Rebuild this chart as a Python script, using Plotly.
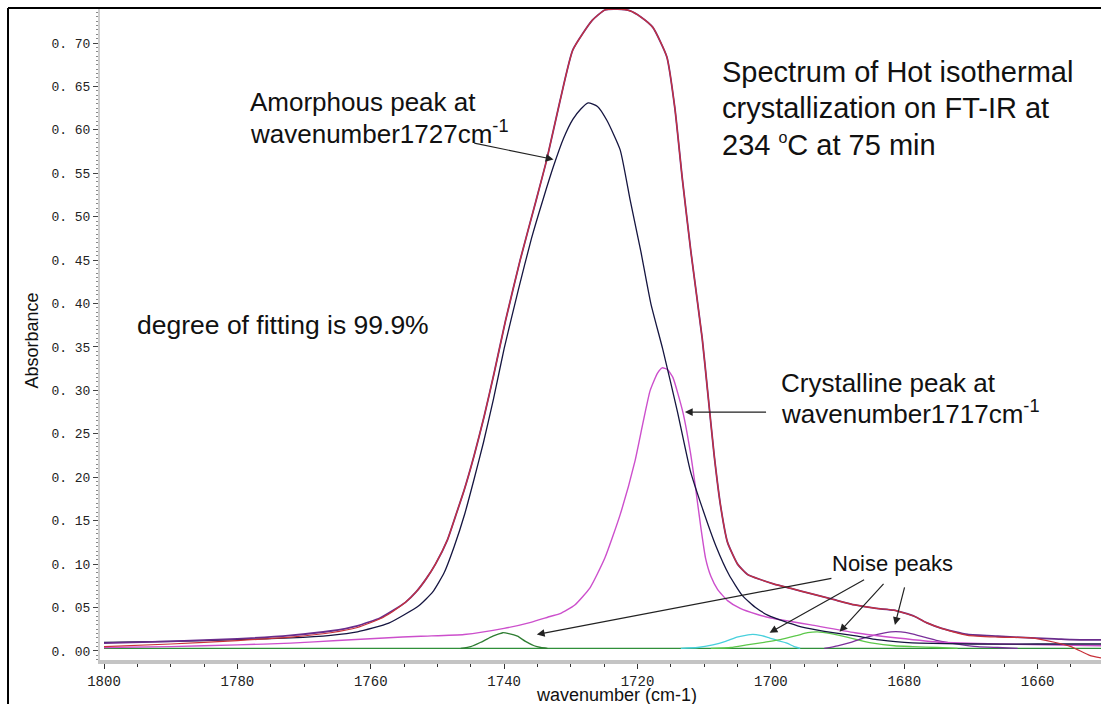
import plotly.graph_objects as go

# ---- measured spectrum (absorbance vs wavenumber, cm-1) ----
measured_wn = [1800, 1790, 1780, 1772, 1766, 1762, 1758.6, 1756.8, 1754.8, 1753.2, 1751.7, 1750.3,
               1748.5, 1747.3, 1746, 1744.5, 1743, 1741.5, 1739.8, 1737.6, 1735.2, 1733.6, 1731.6,
               1729.7, 1726.8, 1724.9, 1723, 1721.1, 1719.5, 1717.7, 1715.6, 1714.4,
               1713.3, 1712, 1710.3, 1709.5, 1708.5, 1707.5, 1706.5, 1705, 1703.5, 1701.5,
               1699.5, 1697, 1694, 1690.5, 1687.4, 1684.2, 1681.6, 1678.5, 1676.5, 1674.4,
               1670.5, 1666, 1661, 1657.5, 1655, 1652.2, 1650.5]
measured_abs = [0.005, 0.008, 0.012, 0.016, 0.021, 0.027, 0.037, 0.045, 0.056, 0.068, 0.083, 0.100,
                0.128, 0.155, 0.185, 0.225, 0.270, 0.320, 0.380, 0.450, 0.519, 0.566, 0.634,
                0.692, 0.726, 0.738, 0.739, 0.737, 0.730, 0.718, 0.684, 0.625,
                0.545, 0.460, 0.360, 0.300, 0.225, 0.165, 0.125, 0.100, 0.088, 0.082,
                0.077, 0.072, 0.066, 0.059, 0.053, 0.049, 0.047, 0.040, 0.032, 0.026,
                0.018, 0.016, 0.015, 0.010, 0.005, -0.005, -0.008]

# ---- fitted envelope (sum of component peaks) ----
fitted_wn = [1800, 1790, 1780, 1772, 1766, 1762, 1758.6, 1756.8, 1754.8, 1753.2, 1751.7, 1750.3,
             1748.5, 1747.3, 1746, 1744.5, 1743, 1741.5, 1739.8, 1737.6, 1735.2, 1733.6, 1731.6,
             1729.7, 1726.8, 1724.9, 1723, 1721.1, 1719.5, 1717.7, 1715.6, 1714.4,
             1713.3, 1712, 1710.3, 1709.5, 1708.5, 1707.5, 1706.5, 1705, 1703.5, 1701.5,
             1699.5, 1697, 1694, 1690.5, 1687.4, 1684.2, 1681.6, 1678.5, 1676.5, 1674.4,
             1670.5, 1666, 1661, 1657.5, 1655, 1652.2, 1650.5]
fitted_abs = [0.009, 0.011, 0.014, 0.018, 0.023, 0.029, 0.038, 0.046, 0.056, 0.068, 0.083, 0.100,
              0.128, 0.155, 0.185, 0.225, 0.270, 0.320, 0.380, 0.450, 0.519, 0.566, 0.634,
              0.692, 0.726, 0.738, 0.739, 0.737, 0.730, 0.718, 0.684, 0.625,
              0.545, 0.460, 0.360, 0.300, 0.225, 0.165, 0.125, 0.100, 0.088, 0.082,
              0.077, 0.072, 0.066, 0.059, 0.053, 0.049, 0.047, 0.040, 0.032, 0.026,
              0.019, 0.017, 0.015, 0.014, 0.013, 0.0127, 0.0127]

# ---- amorphous component (1727 cm-1) ----
amorph_wn = [1800, 1790, 1780, 1772, 1766, 1762, 1757.3, 1752.8, 1750.7, 1749, 1747.5, 1745.9,
             1744.5, 1743.1, 1741.6, 1740, 1737.9, 1735.9, 1734.2, 1732.6, 1731.1, 1729.7,
             1728.5, 1727.4, 1726, 1724.6, 1722.6, 1721.1, 1719.5, 1718, 1716.2, 1714,
             1712.1, 1710.3, 1708.2, 1706.3, 1704.3, 1702.3, 1700.4, 1698, 1696, 1693,
             1690.7, 1687, 1684.1, 1680, 1677.7, 1670, 1660, 1650.5]
amorph_abs = [0.010, 0.011, 0.013, 0.015, 0.018, 0.022, 0.032, 0.052, 0.068, 0.090, 0.120,
              0.158, 0.198, 0.240, 0.290, 0.348, 0.415, 0.475, 0.519, 0.558, 0.590, 0.612,
              0.624, 0.631, 0.627, 0.611, 0.577, 0.519, 0.460, 0.400, 0.347, 0.275,
              0.208, 0.165, 0.120, 0.088, 0.064, 0.050, 0.041, 0.034, 0.029, 0.024,
              0.021, 0.017, 0.013, 0.010, 0.009, 0.008, 0.008, 0.008]

# ---- crystalline component (1717 cm-1) ----
cryst_wn = [1800, 1790, 1780, 1772, 1765, 1758, 1752.5, 1746, 1740, 1736, 1733, 1731.6,
            1729.4, 1727.1, 1724.9, 1722.6, 1720.4, 1719.2, 1718.1, 1717, 1716.3, 1715.5,
            1714.7, 1713.2, 1712.1, 1711.3, 1710.5, 1709.8, 1709, 1708, 1706.5, 1704.6,
            1702, 1700, 1697, 1694, 1687.4, 1681, 1674.4, 1665, 1650.5]
cryst_abs = [0.004, 0.005, 0.007, 0.009, 0.012, 0.015, 0.017, 0.019, 0.026, 0.033, 0.040, 0.043,
             0.053, 0.073, 0.107, 0.157, 0.218, 0.262, 0.300, 0.320, 0.326, 0.324,
             0.315, 0.275, 0.230, 0.188, 0.142, 0.107, 0.086, 0.071, 0.058, 0.049,
             0.042, 0.038, 0.034, 0.030, 0.021, 0.015, 0.010, 0.008, 0.006]

# ---- small side bands ----
band1740_wn = [1746.5, 1745, 1743.5, 1742, 1741, 1740.2, 1739.3, 1738, 1736.8, 1735.5, 1734.5, 1733.5]
band1740_abs = [0.003, 0.005, 0.010, 0.016, 0.019, 0.021, 0.020, 0.017, 0.011, 0.006, 0.004, 0.003]

band1702_wn = [1713.5, 1711, 1708.7, 1706.8, 1705.1, 1703.8, 1702.7, 1701.6, 1700.6, 1699, 1697.6, 1696.5, 1695.6]
band1702_abs = [0.003, 0.004, 0.007, 0.011, 0.016, 0.018, 0.019, 0.018, 0.016, 0.012, 0.009, 0.005, 0.003]

band1693_wn = [1709, 1706, 1703.6, 1701, 1698.6, 1696, 1694.5, 1693, 1691, 1688.6, 1686.5,
               1684.7, 1681.5, 1678.7, 1675, 1672]
band1693_abs = [0.003, 0.004, 0.007, 0.010, 0.013, 0.018, 0.021, 0.022, 0.020, 0.016, 0.012,
                0.009, 0.006, 0.005, 0.004, 0.003]

band1681_wn = [1692, 1690, 1688, 1686, 1684, 1682, 1680.5, 1679, 1677, 1675, 1672, 1669, 1666, 1663]
band1681_abs = [0.003, 0.006, 0.010, 0.015, 0.019, 0.022, 0.022, 0.020, 0.016, 0.012, 0.008, 0.005, 0.004, 0.003]

baseline_wn = [1800, 1650.5]
baseline_abs = [0.003, 0.003]

# ---- axis ticks ----
y_ticks = [0.00, 0.05, 0.10, 0.15, 0.20, 0.25, 0.30, 0.35, 0.40, 0.45, 0.50, 0.55, 0.60, 0.65, 0.70]
x_ticks = [1800, 1780, 1760, 1740, 1720, 1700, 1680, 1660]

fig = go.Figure()


def add_curve(x, y, color, width=1.3):
    fig.add_trace(go.Scatter(
        x=x, y=y, mode="lines",
        line=dict(color=color, width=width, shape="spline", smoothing=0.5),
        hoverinfo="skip", showlegend=False))


add_curve(baseline_wn, baseline_abs, "#2f8f3a", 1.4)
add_curve(band1740_wn, band1740_abs, "#2e7d32")
add_curve(band1702_wn, band1702_abs, "#48d0dc")
add_curve(band1693_wn, band1693_abs, "#5cc84a")
add_curve(band1681_wn, band1681_abs, "#7a2f9a")
add_curve(cryst_wn, cryst_abs, "#cc4fcc", 1.4)
add_curve(amorph_wn, amorph_abs, "#151540", 1.3)
add_curve(fitted_wn, fitted_abs, "#6a2c8c", 1.8)
add_curve(measured_wn, measured_abs, "#c8323a", 1.2)

TXT = "Liberation Sans, Arial, sans-serif"
annotations = []


def label(x, y, text, size):
    annotations.append(dict(x=x, y=y, xref="x", yref="y", text=text, showarrow=False,
                            xanchor="left", yanchor="middle",
                            font=dict(family=TXT, size=size, color="#111")))


def arrow(x, y, ax, ay):
    annotations.append(dict(x=x, y=y, ax=ax, ay=ay, xref="x", yref="y", axref="x", ayref="y",
                            text="", showarrow=True, arrowhead=2, arrowsize=1.3,
                            arrowwidth=1.2, arrowcolor="#222"))


label(1778.4, 0.632, "Amorphous peak at", 26)
label(1778.4, 0.597, "wavenumber1727cm<sup>-1</sup>", 26)
label(1707.6, 0.667, "Spectrum of Hot isothermal", 29)
label(1707.6, 0.625, "crystallization on FT-IR at", 29)
label(1707.6, 0.583,
      "234 <sup><span style='font-size:16px'>o</span></sup>C at 75 min", 29)
label(1795.3, 0.375, "degree of fitting is 99.9%", 26.5)
label(1698.8, 0.309, "Crystalline peak at", 26)
label(1698.8, 0.274, "wavenumber1717cm<sup>-1</sup>", 26)
label(1691.2, 0.101, "Noise peaks", 22)

arrow(1732.6, 0.566, 1744.7, 0.585)
arrow(1712.9, 0.275, 1700.5, 0.275)
arrow(1735.1, 0.019, 1690.7, 0.084)
arrow(1700.2, 0.021, 1685.8, 0.083)
arrow(1689.7, 0.022, 1682.9, 0.079)
arrow(1681.4, 0.030, 1679.9, 0.075)

# axis titles
annotations.append(dict(x=-0.068, y=0.49, xref="paper", yref="paper", text="Absorbance",
                        showarrow=False, textangle=-90, xanchor="center", yanchor="middle",
                        font=dict(family=TXT, size=18, color="#111")))
annotations.append(dict(x=0.5155, y=-0.053, xref="paper", yref="paper", text="wavenumber (cm-1)",
                        showarrow=False, xanchor="center", yanchor="middle",
                        font=dict(family=TXT, size=18, color="#111")))

TICKFONT = "Liberation Mono, DejaVu Sans Mono, monospace"

fig.update_layout(
    width=1101, height=704,
    margin=dict(l=100, r=0, t=8, b=44),
    paper_bgcolor="white", plot_bgcolor="white",
    annotations=annotations,
    xaxis=dict(
        range=[1800.6, 1650.5], showgrid=False, zeroline=False,
        showline=True, linecolor="#c4c4c4", linewidth=4,
        tickmode="array", tickvals=x_ticks, ticktext=[str(v) for v in x_ticks],
        ticks="outside", ticklen=5, tickwidth=1, tickcolor="#333",
        minor=dict(dtick=5, ticks="outside", ticklen=3, tickcolor="#333"),
        tickfont=dict(family=TICKFONT, size=14, color="#222"),
    ),
    yaxis=dict(
        range=[-0.0104, 0.7403], showgrid=False, zeroline=False,
        showline=True, linecolor="#cfcfcf", linewidth=2,
        tickmode="array", tickvals=y_ticks,
        ticktext=[f"{v:.2f}".replace(".", ". ") for v in y_ticks],
        ticks="outside", ticklen=5, tickwidth=1, tickcolor="#444",
        minor=dict(dtick=0.005, ticks="outside", ticklen=2, tickcolor="#888"),
        tickfont=dict(family=TICKFONT, size=13, color="#222"),
    ),
    shapes=[
        dict(type="line", xref="paper", yref="paper", x0=-0.0919, x1=-0.0919, y0=-0.07, y1=1.0,
             line=dict(color="black", width=2)),
        dict(type="line", xref="paper", yref="paper", x0=-0.0919, x1=1.0, y0=1.0, y1=1.0,
             line=dict(color="black", width=2)),
    ],
)

fig.write_html("out.html")
